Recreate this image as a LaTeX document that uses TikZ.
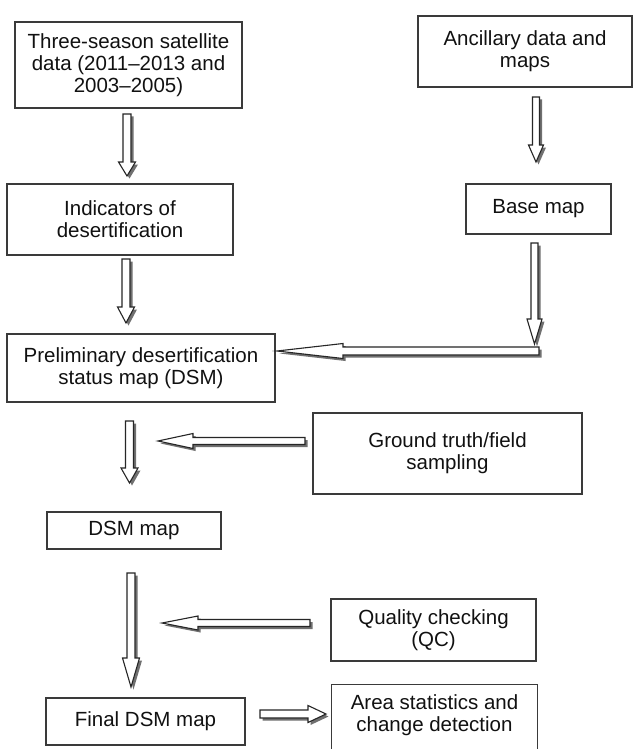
\documentclass[tikz,border=0pt]{standalone}
\usepackage{fontspec}
\setmainfont{Liberation Sans}
\usetikzlibrary{calc}
\definecolor{boxc}{HTML}{3A3A3A}
\definecolor{shadc}{HTML}{707070}
\definecolor{txtc}{HTML}{111111}
\tikzset{
  box/.style={draw=boxc, line width=1.3pt, fill=white, align=center, inner sep=0pt,
    font=\fontsize{20.5}{22}\selectfont, text=txtc},
  arrline/.style={draw=black!85, line width=1.1pt, fill=white, line join=miter},
  shad/.style={fill=shadc},
  sh/.style={xshift=2.5pt, yshift=-2.5pt},
}
% block arrow: #1 tail, #2 tip, #3 shaft half width, #4 head half width, #5 head length
\newcommand{\barrow}[5]{%
  \coordinate (bh) at ($(#2)!#5!(#1)$);
  \coordinate (q1) at ($(#1)!#3!90:(#2)$);
  \coordinate (q2) at ($(bh)!#3!90:(#2)$);
  \coordinate (q3) at ($(bh)!#4!90:(#2)$);
  \coordinate (q4) at ($(bh)!#4!-90:(#2)$);
  \coordinate (q5) at ($(bh)!#3!-90:(#2)$);
  \coordinate (q6) at ($(#1)!#3!-90:(#2)$);
  \fill[shad] ([sh]q1) -- ([sh]q2) -- ([sh]q3) -- ([sh]#2) -- ([sh]q4) -- ([sh]q5) -- ([sh]q6) -- cycle;
  \draw[arrline] (q1) -- (q2) -- (q3) -- (#2) -- (q4) -- (q5) -- (q6) -- cycle;
}
\begin{document}
\begin{tikzpicture}[x=1pt,y=-1pt]
\useasboundingbox[fill=white] (0,0) rectangle (634,749);

% boxes
\node[box, minimum width=227pt, minimum height=86pt] (b1) at (128.5,65)
  {Three-season satellite\\data (2011--2013 and\\2003--2005)};
\node[box, minimum width=214pt, minimum height=71pt] (b2) at (525,51.5)
  {Ancillary data and\\maps};
\node[box, minimum width=226pt, minimum height=71pt] (b3) at (120,219.5)
  {Indicators of\\desertification};
\node[box, minimum width=145pt, minimum height=50pt] (b4) at (538.5,209)
  {Base map};
\node[box, minimum width=268pt, minimum height=68pt] (b5) at (141,368)
  {Preliminary desertification\\status map (DSM)};
\node[box, minimum width=269pt, minimum height=81pt] (b6) at (447.5,453.5)
  {Ground truth/field\\sampling};
\node[box, minimum width=174pt, minimum height=37pt] (b7) at (134,530.5)
  {DSM map};
\node[box, minimum width=205pt, minimum height=62pt] (b8) at (433.5,630)
  {Quality checking\\(QC)};
\node[box, minimum width=199pt, minimum height=47pt] (b9) at (145.5,721.5)
  {Final DSM map};
\node[box, draw=none, minimum width=205pt, minimum height=61pt] (b10) at (434.5,715.5)
  {Area statistics and\\change detection};
\draw[boxc, line width=1.3pt] ($(b10.south west)+(0,12)$) -- (b10.north west)
  -- (b10.north east) -- ($(b10.south east)+(0,12)$);

% arrow end points
\coordinate (a0s) at (536,97);   \coordinate (a0e) at (536,162);
\coordinate (a1s) at (127,114);  \coordinate (a1e) at (127,176);
\coordinate (a2s) at (126,259);  \coordinate (a2e) at (126,323);
\coordinate (a3s) at (534.5,243); \coordinate (a3e) at (534.5,344);
\coordinate (a4s) at (539,351);  \coordinate (a4e) at (277,351);
\coordinate (a5s) at (129.5,421); \coordinate (a5e) at (129.5,483);
\coordinate (a6s) at (305,441);  \coordinate (a6e) at (158,441);
\coordinate (a7s) at (131,573);  \coordinate (a7e) at (131,687);
\coordinate (a8s) at (310,623);  \coordinate (a8e) at (162,623);
\coordinate (a9s) at (260,714);  \coordinate (a9e) at (326,714);

% arrows
\barrow{a0s}{a0e}{3.5pt}{7.5pt}{17pt}
\barrow{a1s}{a1e}{4pt}{8.5pt}{14pt}
\barrow{a2s}{a2e}{4pt}{8.5pt}{16pt}
\barrow{a3s}{a3e}{3.5pt}{7.5pt}{25pt}
\barrow{a4s}{a4e}{4pt}{7.5pt}{66pt}
\barrow{a5s}{a5e}{4pt}{8.5pt}{15pt}
\barrow{a6s}{a6e}{3.5pt}{7.5pt}{35pt}
\barrow{a7s}{a7e}{4pt}{8.5pt}{29pt}
\barrow{a8s}{a8e}{3.5pt}{7pt}{36pt}
\barrow{a9s}{a9e}{4pt}{8.5pt}{18pt}
\end{tikzpicture}
\end{document}
